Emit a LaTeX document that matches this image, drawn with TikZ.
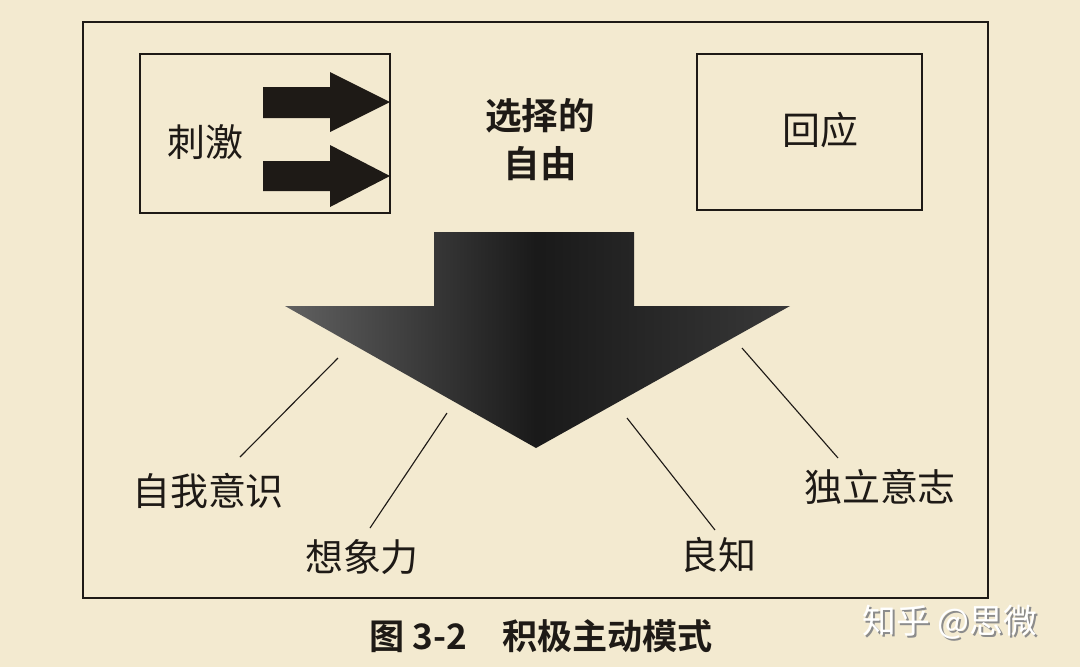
\documentclass[tikz,border=0pt]{standalone}
\usepackage{fontspec}
\newfontfamily\cjk{Noto Sans CJK SC}
\newfontfamily\cjkb{Noto Sans CJK SC Bold}
\definecolor{paper}{HTML}{F3EAD0}
\definecolor{ink}{HTML}{1E1A16}
\begin{document}
\begin{tikzpicture}[x=0.025cm,y=-0.025cm,
  frame/.style={draw=ink,line width=1.3pt},
  lbl/.style={font=\cjk\fontsize{27}{30}\selectfont,text=ink,inner sep=0pt},
  blbl/.style={font=\cjkb\fontsize{26}{34}\selectfont,text=ink,inner sep=0pt,align=center},
  leader/.style={draw=ink,line width=0.8pt}]
\fill[paper] (0,0) rectangle (1080,667);
\useasboundingbox (0,0) rectangle (1080,667);
% outer frame
\draw[frame] (83,22) rectangle (988,598);
% boxes
\draw[frame] (140,54) rectangle (390,213);
\draw[frame] (697,54) rectangle (922,210);
% small arrows
\fill[ink] (263,87) -- (330,87) -- (330,72) -- (390,102) -- (330,132) -- (330,118) -- (263,118) -- cycle;
\fill[ink] (263,161) -- (330,161) -- (330,145) -- (390,176) -- (330,207) -- (330,191) -- (263,191) -- cycle;
% labels
\node[lbl] (stim) at (205,142) {刺激};
\node[blbl] (free) at (540,140) {选择的\\自由};
\node[lbl] (resp) at (820,130) {回应};
% big arrow
\shade[left color=black!62, right color=black!78, middle color=black!90, shading angle=90]
  (434,232) -- (634,232) -- (634,306) -- (790,306) -- (536,448) -- (285,306) -- (434,306) -- cycle;
\coordinate (a1) at (338,358);
\coordinate (a2) at (447,413);
\coordinate (a3) at (627,418);
\coordinate (a4) at (742,348);
% bottom labels
\node[lbl] (sa) at (208,491) {自我意识};
\node[lbl] (im) at (362,557) {想象力};
\node[lbl] (co) at (718,555) {良知};
\node[lbl] (iw) at (880,487) {独立意志};
\draw[leader] (a1) -- (240,457);
\draw[leader] (a2) -- (370,528);
\draw[leader] (a3) -- (715,530);
\draw[leader] (a4) -- (838,458);
% caption
\node[font=\cjkb\fontsize{25}{28}\selectfont,text=ink,inner sep=0pt,anchor=west] (cap) at (369,636) {图 3-2\hspace{1em}积极主动模式};
% watermark
\node[font=\cjk\fontsize{24}{26}\selectfont,text=black!45,inner sep=0pt,anchor=west] (wms) at (864,624) {知乎 @思微};
\node[font=\cjk\fontsize{24}{26}\selectfont,text=white,inner sep=0pt,anchor=west] (wm) at (862,622) {知乎 @思微};
\end{tikzpicture}
\end{document}
